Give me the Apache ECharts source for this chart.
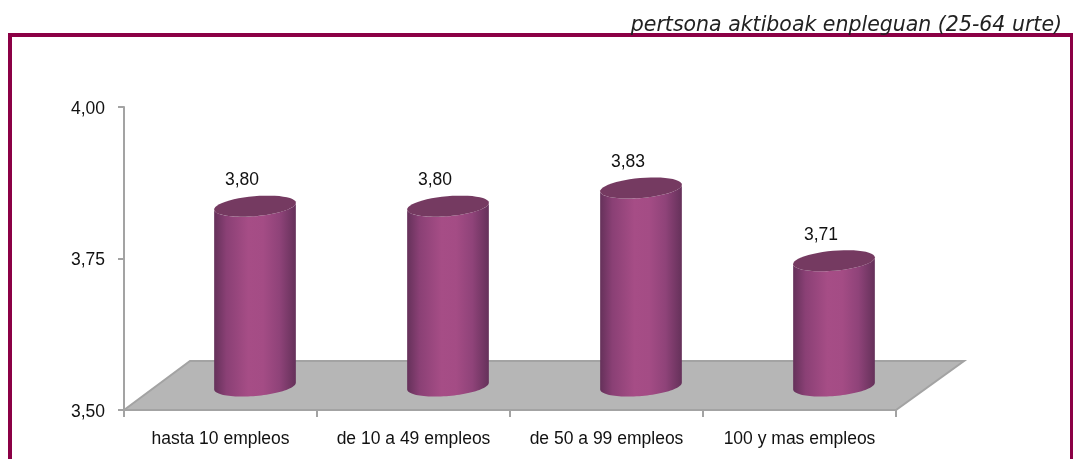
<!DOCTYPE html>
<html lang="en">
<head>
    <meta charset="UTF-8">
    <title>pertsona aktiboak enpleguan</title>
    <style>
        html, body { margin: 0; padding: 0; background: #fff; }
        #main { width: 1073px; height: 459px; }
    </style>
    <script src="https://cdn.jsdelivr.net/npm/echarts@6/dist/echarts.min.js"></script>
</head>
<body>
    <div id="main"></div>
    <script>
        var categories = ['hasta 10 empleos', 'de 10 a 49 empleos', 'de 50 a 99 empleos', '100 y mas empleos'];
        var values = [3.80, 3.80, 3.83, 3.71];
        var yMin = 3.5;
        var yMax = 4;
        var yStep = 0.25;
        var subtitle = 'pertsona aktiboak enpleguan (25-64 urte)';

        var labelFont = '"Liberation Sans", sans-serif';

        // fake 3D: how far the cylinders sit behind the axis plane
        var depthX = 34.5;
        var topDepthY = 22;
        var baseDepthY = 24;
        var radiusX = 41;
        var radiusY = 10;
        var tilt = -5 * Math.PI / 180;

        function comma(v) {
            return v.toFixed(2).replace('.', ',');
        }

        // point on the tilted ellipse, angle in radians
        function ellipsePoint(cx, cy, a) {
            var px = radiusX * Math.cos(a);
            var py = radiusY * Math.sin(a);
            return [cx + px * Math.cos(tilt) - py * Math.sin(tilt), cy + px * Math.sin(tilt) + py * Math.cos(tilt)];
        }

        function ellipseArc(cx, cy, from, to) {
            var pts = [];
            for (var i = 0; i <= 48; i++) {
                pts.push(ellipsePoint(cx, cy, from + (to - from) * i / 48));
            }
            return pts;
        }

        function renderFloor(params, api) {
            var c = params.coordSys;
            var bottom = c.y + c.height;
            return {
                type: 'polygon',
                shape: { points: [
                    [c.x, bottom],
                    [c.x + 66, bottom - 49],
                    [c.x + c.width + 68, bottom - 49],
                    [c.x + c.width, bottom]
                ] },
                style: { fill: '#b6b6b6', stroke: '#a3a3a3', lineWidth: 2 }
            };
        }

        function renderCylinder(params, api) {
            var top = api.coord([api.value(0), api.value(1)]);
            var base = api.coord([api.value(0), yMin]);
            var cx = top[0] + depthX;
            var topY = top[1] - topDepthY;
            var baseY = base[1] - baseDepthY;
            // lower half of the base, then back up along the lower half of the top
            var body = ellipseArc(cx, baseY, Math.PI, 0).reverse().concat(ellipseArc(cx, topY, 0, Math.PI).reverse());
            return {
                type: 'group',
                children: [
                    {
                        type: 'polygon',
                        shape: { points: body },
                        style: {
                            fill: new echarts.graphic.LinearGradient(0, 0, 1, 0, [
                                { offset: 0, color: '#65315a' },
                                { offset: 0.15, color: '#8a4075' },
                                { offset: 0.42, color: '#a64d86' },
                                { offset: 0.6, color: '#a44c85' },
                                { offset: 0.8, color: '#8f4379' },
                                { offset: 1, color: '#65315a' }
                            ])
                        }
                    },
                    {
                        type: 'polygon',
                        shape: { points: ellipseArc(cx, topY, 0, Math.PI * 2) },
                        style: { fill: '#753a61' }
                    },
                    {
                        type: 'text',
                        x: cx - 13,
                        y: top[1] - 48,
                        style: {
                            text: comma(api.value(1)),
                            font: '17.5px ' + labelFont,
                            fill: '#111',
                            align: 'center',
                            verticalAlign: 'middle'
                        }
                    }
                ]
            };
        }

        var myChart = echarts.init(document.getElementById('main'), null, { renderer: 'canvas' });

        var option = {
            animation: false,
            backgroundColor: '#fff',
            graphic: [
                {
                    type: 'rect',
                    shape: { x: 10, y: 35, width: 1062, height: 440 },
                    style: { fill: 'transparent', stroke: '#8b0045', lineWidth: 4 },
                    silent: true
                },
                {
                    type: 'text',
                    right: 11,
                    top: 16,
                    style: {
                        text: subtitle,
                        font: 'italic 20.5px "DejaVu Sans", sans-serif',
                        fill: '#222'
                    }
                }
            ],
            grid: { left: 124, top: 107, width: 772, height: 303, containLabel: false },
            xAxis: {
                type: 'category',
                data: categories,
                axisLine: { lineStyle: { color: '#a3a3a3', width: 2 } },
                axisTick: { show: true, length: 7, lineStyle: { color: '#a3a3a3', width: 2 } },
                axisLabel: { color: '#111', fontFamily: labelFont, fontSize: 17.5, margin: 20, interval: 0 }
            },
            yAxis: {
                type: 'value',
                min: yMin,
                max: yMax,
                interval: yStep,
                splitLine: { show: false },
                axisLine: { show: true, lineStyle: { color: '#a3a3a3', width: 2 } },
                axisTick: { show: true, length: 6, lineStyle: { color: '#a3a3a3', width: 2 } },
                axisLabel: { color: '#111', fontFamily: labelFont, fontSize: 17.5, margin: 19, verticalAlign: 'top', lineHeight: 4, formatter: comma }
            },
            series: [
                {
                    type: 'custom',
                    z: 1,
                    silent: true,
                    renderItem: renderFloor,
                    data: [[0]]
                },
                {
                    type: 'custom',
                    z: 3,
                    renderItem: renderCylinder,
                    encode: { x: 0, y: 1 },
                    data: values.map(function (v, i) { return [i, v]; })
                }
            ]
        };

        myChart.setOption(option);
    </script>
</body>
</html>
